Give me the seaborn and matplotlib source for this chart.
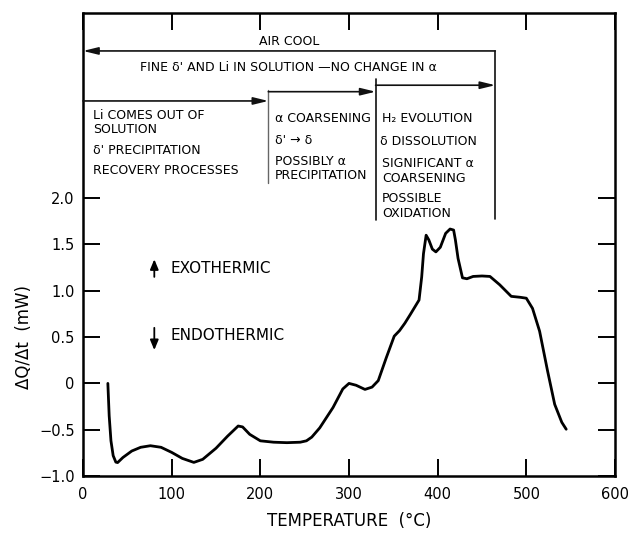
import matplotlib
matplotlib.use("Agg")
import matplotlib.pyplot as plt
import seaborn as sns
import numpy as np
import pandas as pd

# ---- data ----
temperature = [28, 29.5, 31.5, 34, 37, 39, 45, 55, 65, 76, 88, 100, 112, 125, 135,
               150, 163, 175, 180, 188, 200, 215, 230, 245, 252, 258, 267, 282, 293,
               300, 308, 318, 326, 333, 342, 351, 357, 363, 369, 379, 382, 384,
               387, 390, 394, 398, 403, 409, 414, 418, 420, 423, 428, 433, 440,
               450, 459, 470, 483, 493, 500, 507, 515, 524, 532, 540, 545]
heat_flow = [0.0, -0.35, -0.62, -0.78, -0.85, -0.855, -0.80, -0.73, -0.69, -0.673,
             -0.69, -0.745, -0.81, -0.853, -0.82, -0.70, -0.57, -0.46, -0.47, -0.55,
             -0.62, -0.635, -0.64, -0.635, -0.62, -0.58, -0.48, -0.26, -0.06, 0.0,
             -0.02, -0.065, -0.04, 0.03, 0.276, 0.51, 0.57, 0.65, 0.742, 0.90, 1.15,
             1.40, 1.60, 1.55, 1.45, 1.42, 1.47, 1.62, 1.667, 1.656, 1.55, 1.35,
             1.14, 1.13, 1.155, 1.16, 1.155, 1.065, 0.94, 0.93, 0.92, 0.81, 0.563,
             0.133, -0.226, -0.42, -0.495]

x_ticks = [0, 100, 200, 300, 400, 500, 600]
x_tick_labels = ["0", "100", "200", "300", "400", "500", "600"]
y_ticks = [-1.0, -0.5, 0.0, 0.5, 1.0, 1.5, 2.0]
y_tick_labels = ["\u22121.0", "\u22120.5", "0", "0.5", "1.0", "1.5", "2.0"]

df = pd.DataFrame({"T": temperature, "Q": heat_flow})

sns.set_style("ticks")
plt.rcParams["font.family"] = ["DejaVu Sans"]
plt.rcParams["text.color"] = "black"
plt.rcParams["axes.labelcolor"] = "black"

fig = plt.figure(figsize=(6.29, 5.34), dpi=100)
ax = fig.add_axes([0.132, 0.1086, 0.8457, 0.8671])

sns.lineplot(data=df, x="T", y="Q", ax=ax, color="black", lw=2.0,
             sort=False, estimator=None)

ax.set_xlim(0, 600)
ax.set_ylim(-1.0, 4.0)
ax.set_xticks(x_ticks)
ax.set_xticklabels(x_tick_labels)
ax.set_yticks(y_ticks)
ax.set_yticklabels(y_tick_labels)
ax.tick_params(direction="in", length=12, width=1.4, top=True, right=True,
               labelsize=10.5, colors="black", pad=6)
ax.tick_params(axis="x", pad=8)
for s in ax.spines.values():
    s.set_linewidth(1.8)
    s.set_color("black")

ax.set_xlabel("TEMPERATURE  (\u00b0C)", fontsize=12)
ax.set_ylabel("\u0394Q/\u0394t  (mW)", fontsize=12)
ax.xaxis.set_label_coords(0.5, -0.078)
ax.yaxis.set_label_coords(-0.094, 0.30)

# ---- annotations ----
lc = "#111111"
arrow_kw = dict(arrowstyle="-|>,head_length=0.9,head_width=0.22", lw=1.2,
                color=lc, shrinkA=0, shrinkB=0)

# air cool bracket
ax.annotate("", xy=(0, 3.59), xytext=(465, 3.59), arrowprops=arrow_kw)
ax.plot([465, 465], [3.59, 1.78], color=lc, lw=1.2)
ax.text(233, 3.62, "AIR COOL", fontsize=9, ha="center", va="bottom")
ax.text(232, 3.415, "FINE \u03b4' AND Li IN SOLUTION \u2014NO CHANGE IN \u03b1",
        fontsize=9, ha="center", va="center")

# stage brackets
ax.annotate("", xy=(209, 3.05), xytext=(0, 3.05), arrowprops=arrow_kw)
ax.plot([209, 209], [3.17, 2.16], color="#666666", lw=1.0)
ax.annotate("", xy=(330, 3.15), xytext=(209, 3.15), arrowprops=arrow_kw)
ax.plot([330, 330], [3.29, 1.76], color=lc, lw=1.2)
ax.annotate("", xy=(465, 3.22), xytext=(330, 3.22), arrowprops=arrow_kw)

fs = 9
ax.text(11.7, 2.89, "Li COMES OUT OF", fontsize=fs, va="center")
ax.text(11.7, 2.74, "SOLUTION", fontsize=fs, va="center")
ax.text(11.7, 2.51, "\u03b4' PRECIPITATION", fontsize=fs, va="center")
ax.text(11.7, 2.30, "RECOVERY PROCESSES", fontsize=fs, va="center")

ax.text(216.7, 2.857, "\u03b1 COARSENING", fontsize=fs, va="center")
ax.text(216.7, 2.62, "\u03b4' \u2192 \u03b4", fontsize=fs, va="center")
ax.text(216.7, 2.395, "POSSIBLY \u03b1", fontsize=fs, va="center")
ax.text(216.7, 2.244, "PRECIPITATION", fontsize=fs, va="center")

ax.text(337, 2.857, "H\u2082 EVOLUTION", fontsize=fs, va="center")
ax.text(335, 2.61, "\u03b4 DISSOLUTION", fontsize=fs, va="center")
ax.text(337, 2.373, "SIGNIFICANT \u03b1", fontsize=fs, va="center")
ax.text(337, 2.21, "COARSENING", fontsize=fs, va="center")
ax.text(337, 1.997, "POSSIBLE", fontsize=fs, va="center")
ax.text(337, 1.835, "OXIDATION", fontsize=fs, va="center")

# exo / endo
ax.annotate("", xy=(80.4, 1.34), xytext=(80.4, 1.15),
            arrowprops=dict(arrowstyle="-|>,head_length=0.6,head_width=0.25",
                            lw=1.3, color="black", shrinkA=0, shrinkB=0))
ax.text(98.6, 1.244, "EXOTHERMIC", fontsize=11, va="center")
ax.annotate("", xy=(80.4, 0.36), xytext=(80.4, 0.60),
            arrowprops=dict(arrowstyle="-|>,head_length=0.6,head_width=0.25",
                            lw=1.3, color="black", shrinkA=0, shrinkB=0))
ax.text(98.6, 0.513, "ENDOTHERMIC", fontsize=11, va="center")

fig.savefig("out.png", dpi=100, facecolor="white")
